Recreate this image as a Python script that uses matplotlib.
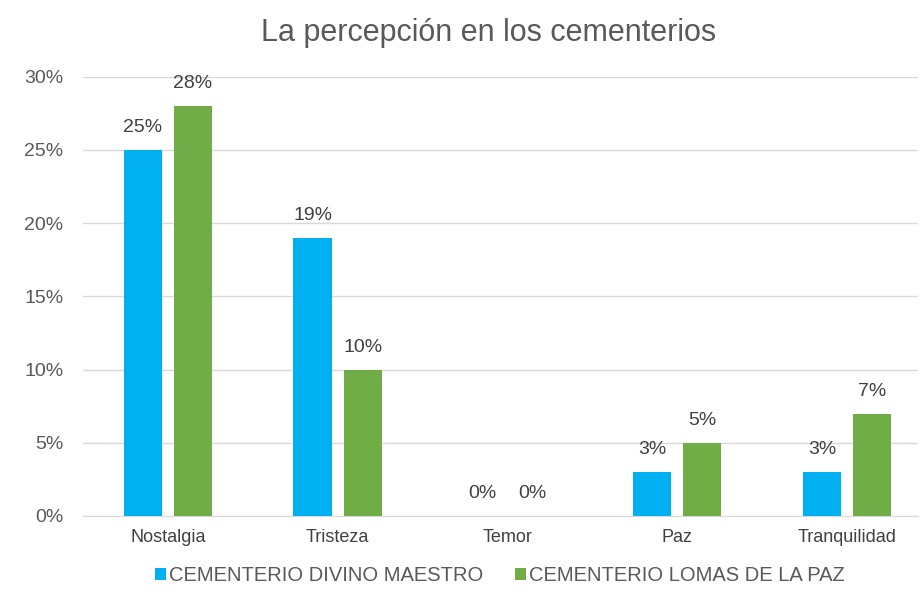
import numpy as np
import matplotlib.pyplot as plt

plt.rcParams['font.family'] = ['Liberation Sans', 'DejaVu Sans']

# ---- data ----
categorias = ["Nostalgia", "Tristeza", "Temor", "Paz", "Tranquilidad"]
divino_maestro = [0.25, 0.19, 0.00, 0.03, 0.03]
lomas_de_la_paz = [0.28, 0.10, 0.00, 0.05, 0.07]
series_nombres = ["CEMENTERIO DIVINO MAESTRO", "CEMENTERIO LOMAS DE LA PAZ"]
yticks = [0, 0.05, 0.10, 0.15, 0.20, 0.25, 0.30]

azul = "#00B0F0"
verde = "#70AD47"
gris = "#595959"

fig = plt.figure(figsize=(9.22, 6.0), dpi=100)
ax = fig.add_axes([0.09, 0.14, 0.906, 0.732])

x = np.arange(len(categorias))
w = 0.225
off = 0.148
b1 = ax.bar(x - off, divino_maestro, w, color=azul, label=series_nombres[0], zorder=3)
b2 = ax.bar(x + off, lomas_de_la_paz, w, color=verde, label=series_nombres[1], zorder=3)

# value labels above each bar
for bars in (b1, b2):
    for r in bars:
        v = r.get_height()
        ax.annotate(f"{v:.0%}", (r.get_x() + r.get_width() / 2, v),
                    xytext=(0, 10), textcoords="offset points",
                    ha="center", va="bottom", fontsize=14, color="#404040")

ax.set_xlim(-0.5, len(categorias) - 0.58)
ax.set_ylim(0, 0.30)
ax.set_yticks(yticks)
ax.set_yticklabels([f"{t:.0%}" for t in yticks], fontsize=14, color=gris)
ax.set_xticks(x)
ax.set_xticklabels(categorias, fontsize=13, color="#404040")
ax.tick_params(axis="x", length=0, pad=9)
ax.tick_params(axis="y", length=0, pad=14)
ax.grid(axis="y", color="#D9D9D9", lw=1, zorder=0)
for s in ("top", "right", "left"):
    ax.spines[s].set_visible(False)
ax.spines["bottom"].set_color("#D9D9D9")

fig.suptitle("La percepción en los cementerios", x=0.53, y=0.97, fontsize=22, color=gris)

fig.legend(loc="lower center", bbox_to_anchor=(0.542, -0.005), ncol=2, frameon=False,
           fontsize=14.5, labelcolor=gris, handlelength=0.55, handleheight=0.55,
           handletextpad=0.15, columnspacing=1.6)

fig.savefig("out.png", dpi=100)
